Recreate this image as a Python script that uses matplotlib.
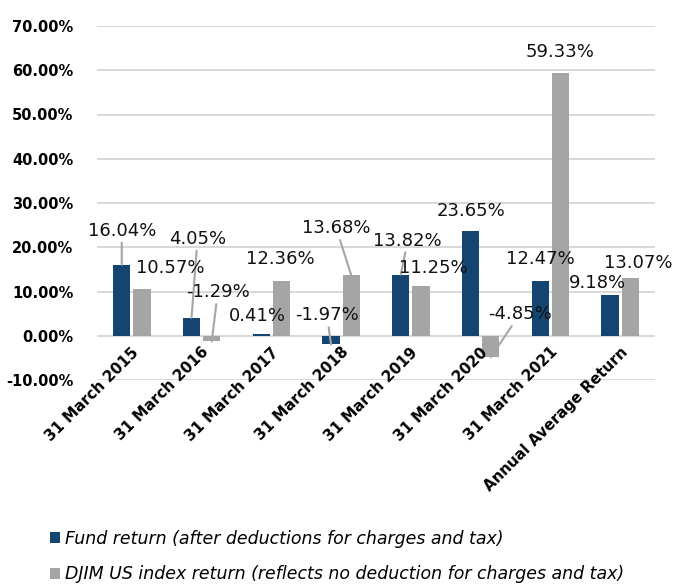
import matplotlib
matplotlib.use('agg')
import matplotlib.pyplot as plt
import numpy as np

# chart data
categories = ["31 March 2015", "31 March 2016", "31 March 2017", "31 March 2018",
              "31 March 2019", "31 March 2020", "31 March 2021", "Annual Average Return"]
fund_return = [16.04, 4.05, 0.41, -1.97, 13.82, 23.65, 12.47, 9.18]
index_return = [10.57, -1.29, 12.36, 13.68, 11.25, -4.85, 59.33, 13.07]
series_names = ["Fund return (after deductions for charges and tax)",
                "DJIM US index return (reflects no deduction for charges and tax)"]
y_ticks = [-10, 0, 10, 20, 30, 40, 50, 60, 70]

# label placement (pixel offsets from bar end) and leader line flags
fund_offsets = [(0, 34), (6, 79), (-4, 18), (-4, 29), (7, 34), (0, 20), (0, 22), (-13, 12)]
index_offsets = [(28, 21), (6, 49), (-1, 22), (-15, 47), (12, 18), (29, 43), (0, 21), (8, 15)]
fund_leader = [True, True, False, True, True, False, False, False]
index_leader = [False, True, False, True, False, True, False, False]

blue = '#144470'
gray = '#A5A5A5'
leader_color = '#A6A6A6'

fig = plt.figure(figsize=(6.77, 5.85), dpi=100)
ax = fig.add_axes([97 / 677, 1 - 380 / 585, (655 - 97) / 677, (380 - 26) / 585])

x = np.arange(len(categories))
w = 0.245
off = 0.145
b1 = ax.bar(x - off, fund_return, w, color=blue, zorder=3)
b2 = ax.bar(x + off, index_return, w, color=gray, zorder=3)

ax.set_xlim(-0.5, len(categories) - 0.5)
ax.set_ylim(-10, 70)
ax.set_yticks(y_ticks)
ax.set_yticklabels(["%.2f%%" % t for t in y_ticks], fontsize=10.5, fontweight='bold')
ax.tick_params(axis='y', length=0, pad=17)
ax.set_xticks([])
ax.yaxis.grid(True, color='#D9D9D9', linewidth=1.5, zorder=0)
for s in ax.spines.values():
    s.set_visible(False)

# category labels just under the zero line
for i, c in enumerate(categories):
    ax.text(i + 0.07, -3.2, c, rotation=45, ha='right', va='center',
            rotation_mode='anchor', fontsize=10.8, fontweight='bold', clip_on=False)


def add_labels(xs, vals, offsets, leaders):
    for xi, v, (dx, dy), lead in zip(xs, vals, offsets, leaders):
        props = None
        if lead:
            props = dict(arrowstyle='-', color=leader_color, lw=1.5,
                         shrinkA=0, shrinkB=0)
        ax.annotate("%.2f%%" % v, xy=(xi, v), xytext=(dx, dy),
                    textcoords='offset pixels', ha='center', va='center',
                    fontsize=13, color='#111111', arrowprops=props,
                    annotation_clip=False, zorder=5)


add_labels(x - off, fund_return, fund_offsets, fund_leader)
add_labels(x + off, index_return, index_offsets, index_leader)

fig.legend([b1, b2], series_names, loc='upper left',
           bbox_to_anchor=(50 / 677, 1 - 530 / 585), frameon=False,
           handlelength=0.6, handleheight=0.6, handletextpad=0.25,
           labelspacing=1.0, borderaxespad=0, borderpad=0,
           prop=dict(size=12.5, style='italic'))

plt.savefig('out.png', dpi=100)
